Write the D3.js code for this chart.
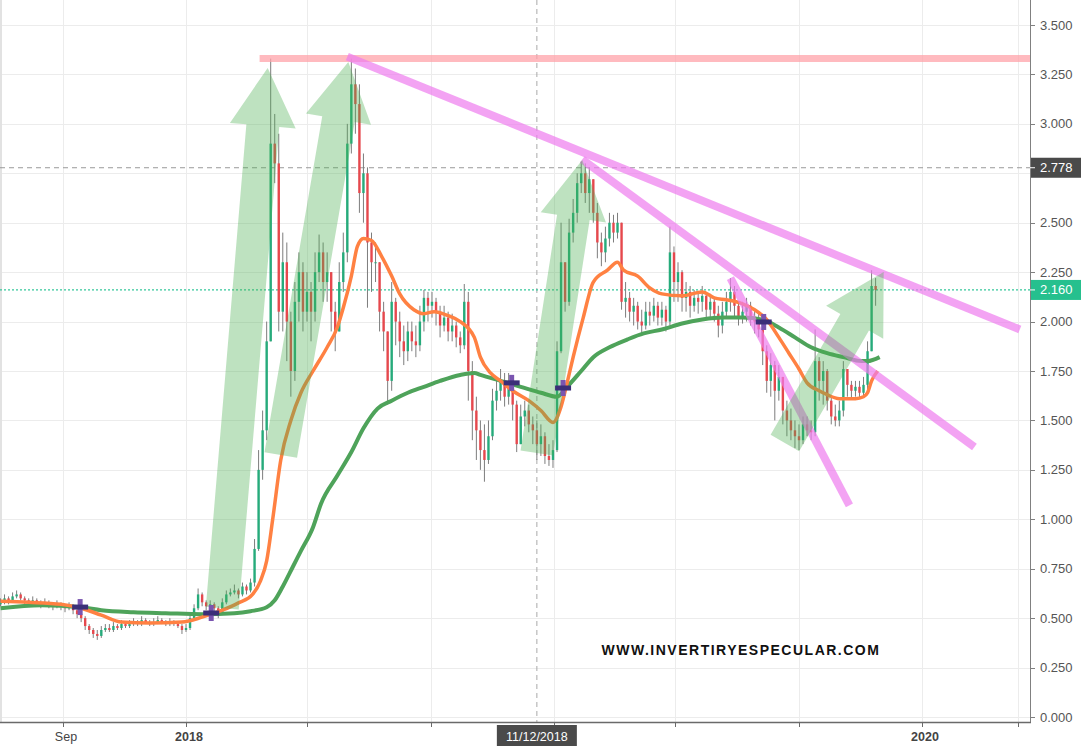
<!DOCTYPE html>
<html>
<head>
<meta charset="utf-8">
<script src="https://cdnjs.cloudflare.com/ajax/libs/d3/7.8.5/d3.min.js"></script>
<style>
body { margin: 0; background: #fff; }
svg { display: block; font-family: "Liberation Sans", Arial, sans-serif; }
</style>
</head>
<body>
<svg id="chart" width="1083" height="746"></svg>
<script>
// candles: one every 4 days from 1 Jul 2017, open = previous close
var startDate = new Date(2017, 6, 1);
var stepDays = 4;
var firstOpen = 0.57;

var closes = [
  0.58,0.60,0.59,0.61,0.62,0.60,0.59,0.58,0.59,0.58,
  0.57,0.58,0.57,0.56,0.57,0.56,0.55,0.56,0.54,0.52,
  0.50,0.46,0.44,0.42,0.41,0.44,0.45,0.44,0.46,0.45,
  0.47,0.46,0.47,0.48,0.47,0.49,0.48,0.47,0.48,0.49,
  0.48,0.47,0.48,0.47,0.46,0.44,0.45,0.50,0.55,0.62,
  0.58,0.56,0.57,0.55,0.53,0.58,0.62,0.63,0.64,0.62,
  0.66,0.64,0.68,0.85,1.25,1.45,1.90,2.90,2.80,2.05,
  2.30,2.00,1.75,2.10,2.25,2.05,2.15,2.05,2.25,2.35,
  2.20,2.25,2.05,1.95,2.20,2.35,2.90,3.20,3.10,2.65,
  2.75,2.40,2.30,2.30,2.05,1.95,1.70,2.10,2.00,1.90,
  1.85,1.95,1.90,1.88,2.00,2.12,2.08,2.10,2.05,1.98,
  2.02,1.95,1.98,1.92,1.88,2.10,1.75,1.55,1.45,1.35,
  1.30,1.42,1.60,1.65,1.70,1.62,1.68,1.58,1.38,1.52,
  1.55,1.48,1.45,1.38,1.42,1.32,1.30,1.35,1.85,2.30,
  2.10,2.45,2.55,2.70,2.75,2.65,2.72,2.55,2.40,2.35,
  2.42,2.50,2.45,2.50,2.10,2.12,2.05,2.08,2.00,1.98,
  2.05,2.03,2.08,2.02,2.06,2.00,2.35,2.20,2.25,2.12,
  2.15,2.08,2.12,2.10,2.13,2.06,2.10,2.04,1.98,2.05,
  2.10,2.15,2.08,2.02,2.05,2.08,2.02,2.00,1.96,1.85,
  1.70,1.78,1.65,1.72,1.55,1.50,1.45,1.42,1.40,1.48,
  1.45,1.44,1.80,1.70,1.75,1.60,1.52,1.50,1.55,1.76,
  1.68,1.65,1.67,1.64,1.68,1.85,2.18,2.16
];

var highs = [
  0.60,0.62,0.61,0.63,0.64,0.63,0.61,0.60,0.61,0.60,
  0.59,0.60,0.59,0.58,0.59,0.58,0.57,0.58,0.57,0.55,
  0.53,0.51,0.47,0.45,0.44,0.46,0.47,0.47,0.48,0.47,
  0.49,0.48,0.49,0.50,0.49,0.51,0.50,0.49,0.50,0.51,
  0.50,0.49,0.50,0.49,0.48,0.47,0.47,0.52,0.57,0.65,
  0.63,0.59,0.59,0.58,0.56,0.60,0.64,0.65,0.67,0.65,
  0.68,0.67,0.70,0.90,1.35,1.55,2.00,3.33,3.05,2.95,
  2.45,2.40,2.05,2.20,2.35,2.30,2.25,2.20,2.35,2.44,
  2.40,2.35,2.25,2.10,2.30,2.45,3.00,3.33,3.28,3.20,
  2.85,2.78,2.45,2.40,2.30,2.10,1.95,2.20,2.12,2.05,
  1.98,2.00,2.00,1.98,2.08,2.16,2.15,2.15,2.12,2.08,
  2.08,2.05,2.04,2.00,1.95,2.19,2.15,1.80,1.62,1.50,
  1.48,1.50,1.66,1.72,1.76,1.74,1.74,1.70,1.60,1.58,
  1.60,1.58,1.52,1.50,1.48,1.44,1.38,1.40,1.90,2.50,
  2.30,2.52,2.62,2.75,2.81,2.80,2.78,2.72,2.60,2.45,
  2.48,2.55,2.54,2.55,2.50,2.20,2.15,2.12,2.10,2.06,
  2.10,2.10,2.12,2.10,2.10,2.08,2.48,2.38,2.30,2.26,
  2.20,2.18,2.16,2.15,2.18,2.14,2.14,2.12,2.08,2.10,
  2.15,2.22,2.18,2.10,2.10,2.12,2.10,2.06,2.04,1.98,
  1.88,1.84,1.80,1.78,1.70,1.60,1.56,1.50,1.48,1.52,
  1.52,1.50,1.96,1.82,1.80,1.76,1.62,1.58,1.60,1.80,
  1.76,1.70,1.70,1.70,1.72,1.90,2.26,2.22
];

var lows = [
  0.56,0.57,0.57,0.58,0.60,0.59,0.57,0.56,0.57,0.56,
  0.55,0.56,0.55,0.54,0.55,0.54,0.53,0.54,0.52,0.50,
  0.48,0.44,0.42,0.40,0.39,0.40,0.43,0.43,0.43,0.44,
  0.44,0.45,0.45,0.46,0.46,0.46,0.47,0.46,0.46,0.47,
  0.47,0.46,0.46,0.46,0.45,0.42,0.43,0.44,0.49,0.54,
  0.56,0.54,0.55,0.53,0.50,0.52,0.57,0.61,0.62,0.60,
  0.61,0.62,0.63,0.66,0.84,1.20,1.40,1.90,2.70,1.95,
  1.95,1.80,1.62,1.70,2.00,1.95,2.00,1.90,2.00,2.20,
  2.10,2.10,1.95,1.85,1.95,2.15,2.30,2.85,2.95,2.55,
  2.50,2.07,2.15,2.20,1.95,1.85,1.58,1.65,1.88,1.82,
  1.78,1.80,1.85,1.82,1.85,1.95,2.00,2.02,1.98,1.92,
  1.95,1.90,1.90,1.87,1.84,1.86,1.60,1.40,1.30,1.25,
  1.19,1.28,1.40,1.55,1.60,1.57,1.58,1.50,1.34,1.40,
  1.47,1.44,1.38,1.30,1.32,1.28,1.27,1.26,1.34,1.84,
  2.05,2.08,2.40,2.50,2.65,2.60,2.55,2.50,2.32,2.28,
  2.30,2.38,2.40,2.42,2.06,2.02,2.00,1.98,1.96,1.94,
  1.96,1.98,2.00,1.98,1.98,1.95,1.98,2.10,2.10,2.05,
  2.05,2.02,2.05,2.04,2.05,2.02,2.02,2.00,1.92,1.94,
  2.02,2.05,2.02,1.98,1.99,2.00,1.98,1.94,1.92,1.78,
  1.64,1.62,1.50,1.60,1.48,1.42,1.40,1.36,1.35,1.38,
  1.42,1.40,1.42,1.60,1.58,1.55,1.48,1.47,1.47,1.52,
  1.62,1.61,1.62,1.61,1.62,1.64,1.85,2.08
];

// moving averages: [candle index, value]
var maFast = [
  [0,0.585],[7,0.58],[15,0.57],[20,0.55],[25,0.515],[30,0.48],[37,0.475],[45,0.48],
  [50,0.505],[55,0.54],[59,0.577],[62.5,0.62],[64.5,0.69],[66,0.79],[67.5,1.0],
  [69.5,1.3],[72,1.5],[74.5,1.64],[77.5,1.75],[81,1.87],[83.5,1.97],[85,2.07],
  [87,2.23],[88.5,2.38],[90,2.42],[92,2.41],[94.5,2.33],[97,2.23],[99,2.14],
  [102.5,2.06],[105,2.04],[107.5,2.05],[111,2.03],[114,2.0],[117.5,1.92],[119,1.82],
  [121.5,1.74],[124,1.70],[127,1.65],[131,1.60],[134,1.55],[137,1.49],[139,1.57],
  [140.5,1.69],[142,1.82],[144.5,2.02],[147,2.2],[150.5,2.26],[153,2.3],[154.5,2.26],
  [158,2.23],[161,2.17],[164,2.14],[169,2.13],[174,2.15],[177,2.12],[180,2.11],
  [184,2.09],[187,2.06],[190,2.01],[193,1.92],[195.5,1.84],[198,1.76],[200,1.69],
  [203,1.65],[205,1.63],[208,1.61],[212,1.61],[214,1.62],[215,1.64],[216,1.70],[217.5,1.75]
];
var maSlow = [
  [0,0.55],[10,0.565],[20,0.555],[25,0.54],[33,0.53],[41,0.525],[50,0.52],[58,0.525],
  [62,0.535],[66,0.555],[68,0.59],[70,0.66],[72.5,0.76],[74.5,0.84],[77.5,0.96],
  [79.5,1.08],[83.5,1.22],[87,1.34],[90,1.46],[93.5,1.56],[97,1.6],[101,1.64],
  [105,1.67],[109,1.7],[114,1.73],[117.5,1.74],[119,1.73],[124,1.70],[129,1.67],
  [134,1.64],[138,1.62],[140.5,1.67],[144,1.75],[147,1.82],[151,1.87],[155.5,1.91],
  [159.5,1.94],[164,1.96],[169,1.99],[174,2.01],[179,2.02],[184,2.02],[189,2.01],
  [193,1.97],[197,1.92],[201,1.87],[205,1.84],[209,1.82],[213.5,1.80],[215,1.80],[218,1.82]
];

// drawings on the chart
var resistance = [new Date(2018, 2, 15), new Date(2020, 3, 20), 3.33];
var trendLines = [
  [new Date(2018, 5, 10), 3.34, new Date(2020, 3, 7), 1.96],
  [new Date(2019, 0, 29), 2.82, new Date(2020, 1, 22), 1.366],
  [new Date(2019, 5, 25), 2.22, new Date(2019, 9, 21), 1.07]
];
var arrows = [
  [new Date(2018, 1, 6), 0.551, new Date(2018, 2, 23), 3.283],
  [new Date(2018, 3, 5), 1.325, new Date(2018, 5, 11), 3.313],
  [new Date(2018, 11, 15), 1.335, new Date(2019, 0, 29), 2.817],
  [new Date(2019, 7, 18), 1.386, new Date(2019, 10, 24), 2.251]
];
var crosses = [
  [new Date(2017, 8, 18), 0.556],
  [new Date(2018, 0, 26), 0.526],
  [new Date(2018, 10, 20), 1.69],
  [new Date(2019, 0, 10), 1.664],
  [new Date(2019, 6, 28), 1.998]
];

var yTicks = [0, 0.25, 0.5, 0.75, 1, 1.25, 1.5, 1.75, 2, 2.25, 2.5, 2.75, 3, 3.25, 3.5];
var xTicks = [new Date(2017, 8, 1), new Date(2018, 0, 1), new Date(2018, 4, 1), new Date(2018, 8, 1),
              new Date(2019, 0, 1), new Date(2019, 4, 1), new Date(2019, 8, 1), new Date(2020, 0, 1), new Date(2020, 3, 5)];
var xTickLabels = ["Sep", "2018", "", "", "", "", "", "2020", ""];

var lastPrice = 2.160;
var crossPrice = 2.778;
var crossDate = new Date(2018, 11, 15);
var crossDateLabel = "11/12/2018";
var watermark = "WWW.INVERTIRYESPECULAR.COM";

var svg = d3.select("#chart"),
    plotW = 1030,
    plotH = 722;

var x = d3.scaleTime()
    .domain([new Date(2018, 0, 1), new Date(2020, 0, 1)])
    .range([186, 922]);
var y = d3.scaleLinear()
    .domain([0, 3.5])
    .range([717, 25]);

function candleDate(i) {
    return d3.timeDay.offset(startDate, Math.round(i * stepDays));
}
function idxX(i) {
    return x(new Date(startDate.getTime() + i * stepDays * 864e5));
}

var candles = closes.map(function (c, i) {
    var o = i === 0 ? firstOpen : closes[i - 1];
    return {date: candleDate(i), open: o, close: c, high: highs[i], low: lows[i]};
});

svg.append("defs").append("clipPath").attr("id", "plot")
    .append("rect").attr("width", plotW).attr("height", plotH);

// grid
var grid = svg.append("g");
grid.selectAll(".hg").data(yTicks).enter().append("line")
    .attr("x1", 0).attr("x2", plotW)
    .attr("y1", function (d) { return Math.round(y(d)) + 0.5; })
    .attr("y2", function (d) { return Math.round(y(d)) + 0.5; })
    .attr("stroke", "#ececec");
grid.selectAll(".vg").data(xTicks).enter().append("line")
    .attr("x1", function (d) { return Math.round(x(d)) + 0.5; })
    .attr("x2", function (d) { return Math.round(x(d)) + 0.5; })
    .attr("y1", 0).attr("y2", plotH)
    .attr("stroke", "#ececec");
svg.append("line").attr("x1", 1).attr("x2", 1).attr("y1", 0).attr("y2", plotH)
    .attr("stroke", "#e2e2e2").attr("stroke-width", 2);

var plot = svg.append("g").attr("clip-path", "url(#plot)");

// crosshair lines
plot.append("line")
    .attr("x1", 0).attr("x2", plotW)
    .attr("y1", y(crossPrice)).attr("y2", y(crossPrice))
    .attr("stroke", "#9a9a9a").attr("stroke-dasharray", "5,4");
plot.append("line")
    .attr("x1", x(crossDate)).attr("x2", x(crossDate))
    .attr("y1", 0).attr("y2", plotH)
    .attr("stroke", "#aaa").attr("stroke-dasharray", "5,4");

// last price line
plot.append("line")
    .attr("x1", 0).attr("x2", plotW)
    .attr("y1", y(lastPrice)).attr("y2", y(lastPrice))
    .attr("stroke", "#35c79b").attr("stroke-width", 1.2).attr("stroke-dasharray", "2,2");

// candles
var upColor = "#26ab7b", downColor = "#e6484d";
var cg = plot.append("g");
cg.selectAll(".wick").data(candles).enter().append("line")
    .attr("x1", function (d) { return x(d.date); })
    .attr("x2", function (d) { return x(d.date); })
    .attr("y1", function (d) { return y(Math.max(d.high, d.open, d.close)); })
    .attr("y2", function (d) { return y(Math.min(d.low, d.open, d.close)); })
    .attr("stroke", "#7d7d7d").attr("stroke-width", 1);
cg.selectAll(".body").data(candles).enter().append("rect")
    .attr("x", function (d) { return x(d.date) - 1.2; })
    .attr("width", 2.4)
    .attr("y", function (d) { return y(Math.max(d.open, d.close)); })
    .attr("height", function (d) { return Math.max(1, Math.abs(y(d.open) - y(d.close))); })
    .attr("fill", function (d) { return d.close >= d.open ? upColor : downColor; });

// moving averages
var maLine = d3.line()
    .x(function (d) { return idxX(d[0]); })
    .y(function (d) { return y(d[1]); })
    .curve(d3.curveMonotoneX);
plot.append("path").datum(maSlow).attr("d", maLine)
    .attr("fill", "none").attr("stroke", "#4ea35a").attr("stroke-width", 4);
plot.append("path").datum(maFast).attr("d", maLine)
    .attr("fill", "none").attr("stroke", "#ff8142").attr("stroke-width", 3.5);

// resistance + trendlines
plot.append("line")
    .attr("x1", x(resistance[0])).attr("x2", x(resistance[1]))
    .attr("y1", y(resistance[2])).attr("y2", y(resistance[2]))
    .attr("stroke", "#ffa3aa").attr("stroke-opacity", 0.75).attr("stroke-width", 7);
plot.selectAll(".trend").data(trendLines).enter().append("line")
    .attr("x1", function (d) { return x(d[0]); })
    .attr("y1", function (d) { return y(d[1]); })
    .attr("x2", function (d) { return x(d[2]); })
    .attr("y2", function (d) { return y(d[3]); })
    .attr("stroke", "#ee7cee").attr("stroke-opacity", 0.7).attr("stroke-width", 8);

// arrows
var shaftHalf = 16.5, headHalf = 33, headLen = 58;
function arrowPoints(a) {
    var bx = x(a[0]), by = y(a[1]), tx = x(a[2]), ty = y(a[3]);
    var dx = tx - bx, dy = ty - by, len = Math.sqrt(dx * dx + dy * dy);
    var ux = dx / len, uy = dy / len, nx = -uy, ny = ux;
    var hx = tx - ux * headLen, hy = ty - uy * headLen;
    return [
        [bx + nx * shaftHalf, by + ny * shaftHalf],
        [hx + nx * shaftHalf, hy + ny * shaftHalf],
        [hx + nx * headHalf, hy + ny * headHalf],
        [tx, ty],
        [hx - nx * headHalf, hy - ny * headHalf],
        [hx - nx * shaftHalf, hy - ny * shaftHalf],
        [bx - nx * shaftHalf, by - ny * shaftHalf]
    ];
}
plot.selectAll(".arrow").data(arrows).enter().append("polygon")
    .attr("points", function (d) { return arrowPoints(d).map(function (p) { return p.join(","); }).join(" "); })
    .attr("fill", "#4caf50").attr("fill-opacity", 0.36);

// crossing markers
var cm = plot.selectAll(".cross").data(crosses).enter().append("g")
    .attr("transform", function (d) { return "translate(" + x(d[0]) + "," + y(d[1]) + ")"; });
cm.append("rect").attr("x", -2.5).attr("y", -8).attr("width", 5).attr("height", 16).attr("fill", "#7a55b0");
cm.append("rect").attr("x", -8).attr("y", -2.5).attr("width", 16).attr("height", 5).attr("fill", "#3b2f78");

// watermark
svg.append("text")
    .attr("x", 741).attr("y", 655)
    .attr("text-anchor", "middle")
    .attr("font-size", 14).attr("font-weight", "bold")
    .attr("letter-spacing", "1.5px")
    .attr("fill", "#111")
    .text(watermark);

// axes
svg.append("line").attr("x1", plotW + 0.5).attr("x2", plotW + 0.5).attr("y1", 0).attr("y2", plotH + 1)
    .attr("stroke", "#808080");
svg.append("line").attr("x1", 0).attr("x2", plotW + 1).attr("y1", plotH + 0.5).attr("y2", plotH + 0.5)
    .attr("stroke", "#6a6a6a").attr("stroke-width", 1.5);

// labels hidden behind the price tags are left out, as on the reference
var yLabelTicks = yTicks.filter(function (d) {
    return Math.abs(y(d) - y(crossPrice)) > 16 && Math.abs(y(d) - y(lastPrice)) > 16;
});
var yAxis = svg.append("g");
yAxis.selectAll(".yt").data(yTicks).enter().append("line")
    .attr("x1", plotW).attr("x2", plotW + 5)
    .attr("y1", function (d) { return Math.round(y(d)) + 0.5; })
    .attr("y2", function (d) { return Math.round(y(d)) + 0.5; })
    .attr("stroke", "#808080");
yAxis.selectAll(".yl").data(yLabelTicks).enter().append("text")
    .attr("x", plotW + 10)
    .attr("y", function (d) { return y(d); })
    .attr("dy", "0.35em")
    .attr("font-size", 13)
    .attr("fill", "#555")
    .text(function (d) { return d3.format(".3f")(d); });

var xAxis = svg.append("g");
xAxis.selectAll(".xt").data(xTicks).enter().append("line")
    .attr("x1", function (d) { return Math.round(x(d)) + 0.5; })
    .attr("x2", function (d) { return Math.round(x(d)) + 0.5; })
    .attr("y1", plotH).attr("y2", plotH + 5)
    .attr("stroke", "#6a6a6a");
xAxis.selectAll(".xl").data(xTicks).enter().append("text")
    .attr("x", function (d) { return x(d) + 3; })
    .attr("y", 741)
    .attr("text-anchor", "middle")
    .attr("font-size", 12.5)
    .attr("font-weight", function (d, i) { return /^\d{4}$/.test(xTickLabels[i]) ? "bold" : "normal"; })
    .attr("fill", "#444")
    .text(function (d, i) { return xTickLabels[i]; });

// price labels on the right scale
function priceTag(v, color) {
    var g = svg.append("g").attr("transform", "translate(" + plotW + "," + y(v) + ")");
    g.append("rect").attr("x", 1).attr("y", -10).attr("width", 50).attr("height", 20).attr("fill", color);
    g.append("line").attr("x1", 0).attr("x2", 5).attr("y1", 0).attr("y2", 0).attr("stroke", "#fff");
    g.append("text").attr("x", 10).attr("dy", "0.35em").attr("font-size", 13).attr("fill", "#fff")
        .text(d3.format(".3f")(v));
}
priceTag(crossPrice, "#4a4a4a");
priceTag(lastPrice, "#26c08e");

// date tag at the crosshair
var dt = svg.append("g").attr("transform", "translate(" + x(crossDate) + "," + plotH + ")");
dt.append("rect").attr("x", -40).attr("y", 3).attr("width", 80).attr("height", 22).attr("fill", "#4a4a4a");
dt.append("text").attr("y", 19).attr("text-anchor", "middle").attr("font-size", 12.5).attr("fill", "#fff")
    .text(crossDateLabel);
</script>
</body>
</html>
